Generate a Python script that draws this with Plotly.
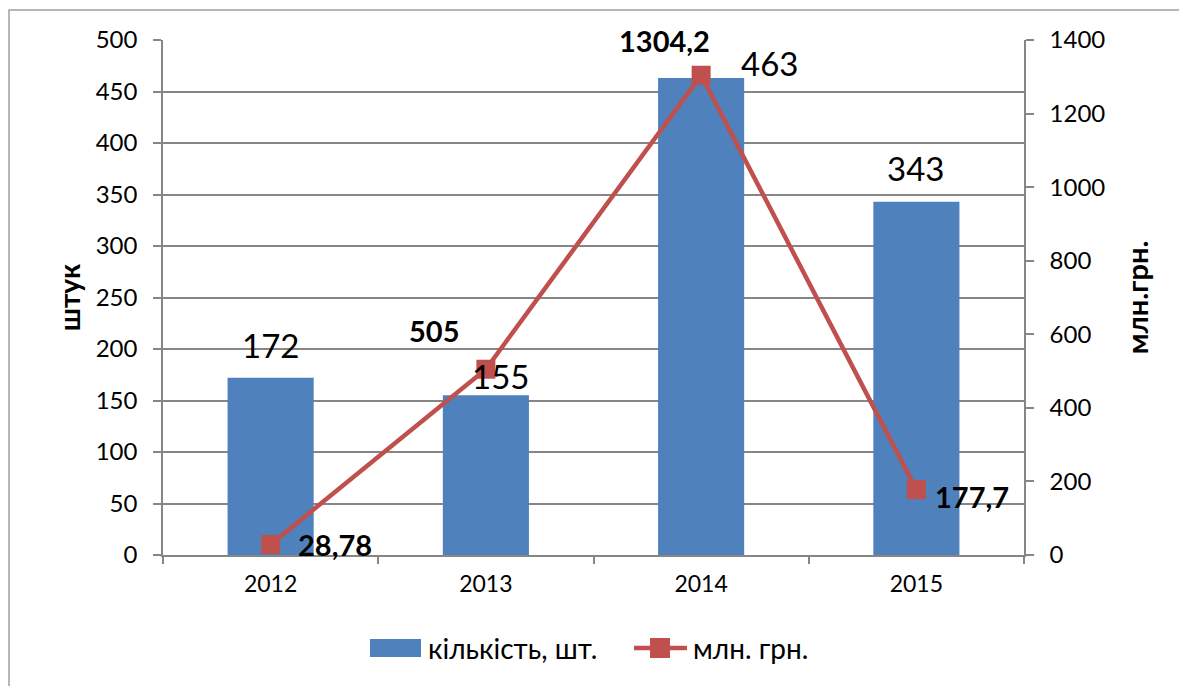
import plotly.graph_objects as go

years = ["2012", "2013", "2014", "2015"]
count_values = [172, 155, 463, 343]
money_values = [28.78, 505, 1304.2, 177.7]
money_labels = ["28,78", "505", "1304,2", "177,7"]
count_name = "кількість, шт."
money_name = "млн. грн."
left_title = "штук"
right_title = "млн.грн."

BAR_COLOR = "#4F81BD"
LINE_COLOR = "#C0504D"
GRID = "#868686"
FONT = "Lato"

# page offset of the figure (browser default body margin)
OFF = 8
W, H = 1187 - OFF, 686 - OFF
# plot-area pixel geometry in window coordinates
PL, PR, PT, PB = 163, 1024, 40, 555
def px(x):
    return (x - PL) / (PR - PL)
def py(y):
    return (PB - y) / (PB - PT)

fig = go.Figure()
fig.add_trace(go.Bar(x=years, y=count_values, name=count_name,
                     marker=dict(color=BAR_COLOR, line=dict(width=0)), yaxis="y"))
fig.add_trace(go.Scatter(x=years, y=money_values, name=money_name, yaxis="y2",
                         mode="lines+markers",
                         line=dict(color=LINE_COLOR, width=4.5),
                         marker=dict(symbol="square", size=19, color=LINE_COLOR,
                                     line=dict(width=0))))

bar_shifts = [(0, 33), (15, 19), (68, 15), (-1, 34)]
for i, (v, (dx, dy)) in enumerate(zip(count_values, bar_shifts)):
    fig.add_annotation(x=i, y=v, xref="x", yref="y", text=str(v), showarrow=False,
                       xshift=dx, yshift=dy, yanchor="middle",
                       font=dict(family=FONT, size=33, color="black"))

line_shifts = [(64, 0), (-52, 39), (-37, 35), (56, -7)]
for i, (v, t, (dx, dy)) in enumerate(zip(money_values, money_labels, line_shifts)):
    fig.add_annotation(x=i, y=v, xref="x", yref="y2", text="<b>" + t + "</b>",
                       showarrow=False, xshift=dx, yshift=dy, yanchor="middle",
                       font=dict(family=FONT, size=29, color="black"))

# chart-area border
fig.add_shape(type="rect", xref="paper", yref="paper",
              x0=px(9), x1=px(1200), y0=py(720), y1=py(10),
              line=dict(color="#A0A0A0", width=1.5), fillcolor="rgba(0,0,0,0)",
              layer="below")

# legend drawn manually (Excel-style keys)
LY = 648
fig.add_shape(type="rect", xref="paper", yref="paper",
              x0=px(370), x1=px(421), y0=py(657), y1=py(639),
              fillcolor=BAR_COLOR, line=dict(width=0))
fig.add_annotation(xref="paper", yref="paper", x=px(426), y=py(LY), text=count_name,
                   showarrow=False, xanchor="left", yanchor="middle",
                   font=dict(family=FONT, size=28, color="black"))
fig.add_shape(type="line", xref="paper", yref="paper",
              x0=px(634), x1=px(687), y0=py(LY), y1=py(LY),
              line=dict(color=LINE_COLOR, width=4.5))
fig.add_shape(type="rect", xref="paper", yref="paper",
              x0=px(650), x1=px(670), y0=py(658), y1=py(638),
              fillcolor=LINE_COLOR, line=dict(width=0))
fig.add_annotation(xref="paper", yref="paper", x=px(691), y=py(LY), text=money_name,
                   showarrow=False, xanchor="left", yanchor="middle",
                   font=dict(family=FONT, size=28, color="black"))

fig.update_layout(
    width=W, height=H,
    margin=dict(l=PL - OFF, r=W - (PR - OFF), t=PT - OFF, b=H - (PB - OFF), pad=0),
    paper_bgcolor="white", plot_bgcolor="white",
    font=dict(family=FONT, color="black"),
    bargap=0.6,
    showlegend=False,
    xaxis=dict(type="category", range=[-0.5, 3.5], tickson="boundaries",
               ticks="outside", ticklen=7, automargin=False, tickangle=0,
               tickcolor=GRID, tickwidth=1.5, showline=True, linecolor=GRID, linewidth=1.5,
               showgrid=False, tickfont=dict(family=FONT, size=23, color="black"),
               ticklabelstandoff=8),
    yaxis=dict(range=[0, 500], dtick=50, ticks="outside", ticklen=8, tickcolor=GRID,
               tickwidth=1.5, showline=True, linecolor=GRID, linewidth=1.5,
               showgrid=True, gridcolor=GRID, gridwidth=1.5, zeroline=False,
               automargin=False, ticklabelstandoff=11,
               tickfont=dict(family=FONT, size=24, color="black"),
               title=dict(text="<b>" + left_title + "</b>", standoff=7,
                          font=dict(family=FONT, size=28, color="black"))),
    yaxis2=dict(range=[0, 1400], dtick=200, overlaying="y", side="right",
                ticks="outside", ticklen=8, tickcolor=GRID, tickwidth=1.5,
                showline=True, linecolor=GRID, linewidth=1.5, showgrid=False,
                zeroline=False, automargin=False, ticklabelstandoff=11,
                tickfont=dict(family=FONT, size=24, color="black"),
                title=dict(text="<b>" + right_title + "</b>", standoff=23,
                           font=dict(family=FONT, size=29, color="black"))),
)

fig.write_html("out.html")
